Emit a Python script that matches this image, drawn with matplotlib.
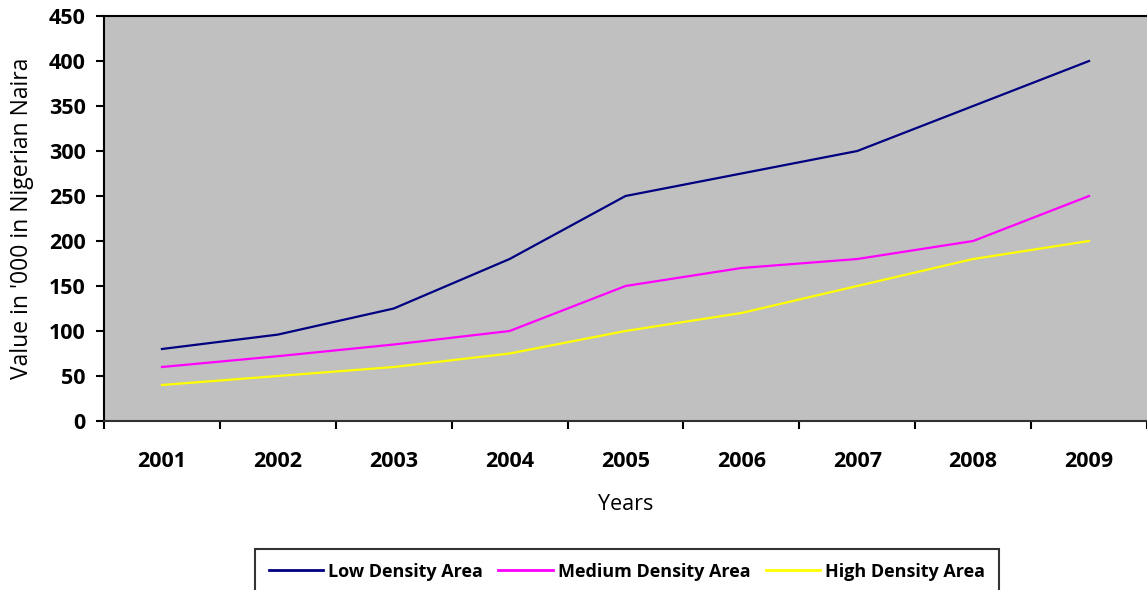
import matplotlib.pyplot as plt
import numpy as np

# Valores por ano (em milhares de Naira)
anos = ["2001", "2002", "2003", "2004", "2005", "2006", "2007", "2008", "2009"]
baixa_densidade = [80, 96, 125, 180, 250, 275, 300, 350, 400]
media_densidade = [60, 72, 85, 100, 150, 170, 180, 200, 250]
alta_densidade = [40, 50, 60, 75, 100, 120, 150, 180, 200]

plt.rcParams['font.family'] = ['Open Sans', 'DejaVu Sans']

fig = plt.figure(figsize=(11.47, 5.90), dpi=100)
ax = fig.add_axes([104 / 1147, 1 - 421 / 590, 1 - 104 / 1147, (421 - 16) / 590])
ax.set_facecolor("#c0c0c0")

x = np.arange(len(anos))
ax.plot(x, baixa_densidade, color="#000080", lw=1.6, label="Low Density Area")
ax.plot(x, media_densidade, color="#ff00ff", lw=1.6, label="Medium Density Area")
ax.plot(x, alta_densidade, color="#ffff00", lw=1.6, label="High Density Area")

ax.set_xlim(-0.5, len(anos) - 0.5)
ax.set_ylim(0, 450)
ax.set_yticks(np.arange(0, 451, 50))

# marcas entre as categorias, rótulos no centro
ax.set_xticks(np.arange(-0.5, len(anos), 1))
ax.set_xticklabels([])
ax.set_xticks(x, minor=True)
ax.set_xticklabels(anos, minor=True, fontweight="bold", fontsize=15.5)
ax.tick_params(axis="x", which="minor", length=0, pad=21.5)
ax.tick_params(axis="x", which="major", direction="out", length=6, width=1.5)
ax.tick_params(axis="y", direction="out", length=5.5, width=1.5, pad=7.5)
for lbl in ax.get_yticklabels():
    lbl.set_fontweight("bold")
    lbl.set_fontsize(15.5)

for lado in ["left", "top", "bottom"]:
    ax.spines[lado].set_color("black")
    ax.spines[lado].set_linewidth(1.5)
ax.spines["bottom"].set_color("#303030")
ax.spines["right"].set_visible(False)

ax.set_ylabel("Value in '000 in Nigerian Naira", fontsize=16.5)
ax.yaxis.label.set_va("center")
ax.yaxis.set_label_coords((22 - 104) / 1043, 0.5)
ax.set_xlabel("Years", fontsize=15.5)
ax.xaxis.label.set_va("center")
ax.xaxis.set_label_coords(0.5, (421 - 505) / 405)

leg = fig.legend(loc="upper center", bbox_to_anchor=(627 / 1147, 1 - 549 / 590), ncol=3,
                 frameon=True, fancybox=False, edgecolor="black",
                 prop={"weight": "bold", "size": 13}, handlelength=3.0,
                 columnspacing=0.85, handletextpad=0.3, borderpad=0.75,
                 borderaxespad=0)
leg.get_frame().set_linewidth(1.5)
for linha in leg.get_lines():
    linha.set_linewidth(2)

fig.savefig("out.png", dpi=100)
